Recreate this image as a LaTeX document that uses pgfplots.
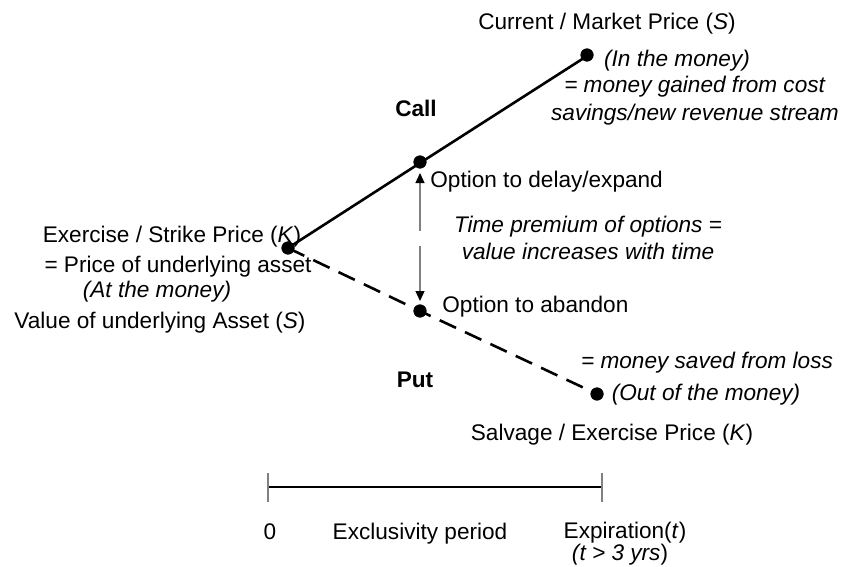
\documentclass[border=0pt]{standalone}
\usepackage{pgfplots}
\pgfplotsset{compat=1.18}
\usetikzlibrary{arrows.meta}
\usepackage{fontspec}
\setmainfont{Liberation Sans}
\tikzset{lbl/.style={font=\fontsize{11.3}{13}\selectfont,inner sep=0pt,anchor=base},
  lblw/.style={lbl,anchor=base west}}
\begin{document}
\begin{tikzpicture}
\begin{axis}[width=428pt,height=283.5pt,scale only axis,
  xmin=0,xmax=856,ymin=0,ymax=567,y dir=reverse,hide axis,clip=false]
\path (axis cs:0,0) rectangle (axis cs:856,567);
% call line
\addplot[black, line width=1.3pt] coordinates {(288,248) (420,163) (587,56)};
% put line
\addplot[black, line width=1.3pt, dash pattern=on 9pt off 5pt] coordinates {(288,248) (420,311) (597,394)};
% time premium arrows
\addplot[gray, line width=0.6pt, -{Triangle[black,length=5pt,width=4.5pt]}] coordinates {(420,231) (420,173)};
\addplot[gray, line width=0.6pt, -{Triangle[black,length=5pt,width=4.5pt]}] coordinates {(420,246) (420,301)};
% dots
\addplot[only marks, mark=*, mark size=3.1pt, black] coordinates {(587,55) (420,162) (288,248) (420,311) (597,394)};
% timeline
\addplot[black, line width=0.6pt] coordinates {(268,487) (602,487)};
\addplot[gray, line width=0.6pt] coordinates {(268,473) (268,502)};
\addplot[gray, line width=0.6pt] coordinates {(602,473) (602,502)};
% texts
\node[lbl] at (axis cs:607,30) {Current / Market Price (\textit{S})};
\node[lbl] at (axis cs:677,67) {\textit{(In the money)}};
\node[lbl] at (axis cs:695,93) {\textit{= money gained from cost}};
\node[lbl] at (axis cs:695,120) {\textit{savings/new revenue stream}};
\node[lbl] at (axis cs:416,117) {\textbf{Call}};
\node[lblw] at (axis cs:430,187) {Option to delay/expand};
\node[lbl] at (axis cs:588,232) {\textit{Time premium of options =}};
\node[lbl] at (axis cs:588,259) {\textit{value increases with time}};
\node[lblw] at (axis cs:442,312) {Option to abandon};
\node[lbl] at (axis cs:172,242) {Exercise / Strike Price (\textit{K})};
\node[lbl] at (axis cs:178,272) {= Price of underlying asset};
\node[lbl] at (axis cs:157,297) {\textit{(At the money)}};
\node[lbl] at (axis cs:160,328) {Value of underlying Asset (\textit{S})};
\node[lbl] at (axis cs:415,387) {\textbf{Put}};
\node[lbl] at (axis cs:707,368) {\textit{= money saved from loss}};
\node[lbl] at (axis cs:706,400) {\textit{(Out of the money)}};
\node[lbl] at (axis cs:612,440) {Salvage / Exercise Price (\textit{K})};
\node[lbl] at (axis cs:270,539) {0};
\node[lbl] at (axis cs:420,539) {Exclusivity period};
\node[lbl] at (axis cs:625,538) {Expiration(\textit{t})};
\node[lbl] at (axis cs:620,560) {\textit{(t > 3 yrs})};
\end{axis}
\end{tikzpicture}
\end{document}
